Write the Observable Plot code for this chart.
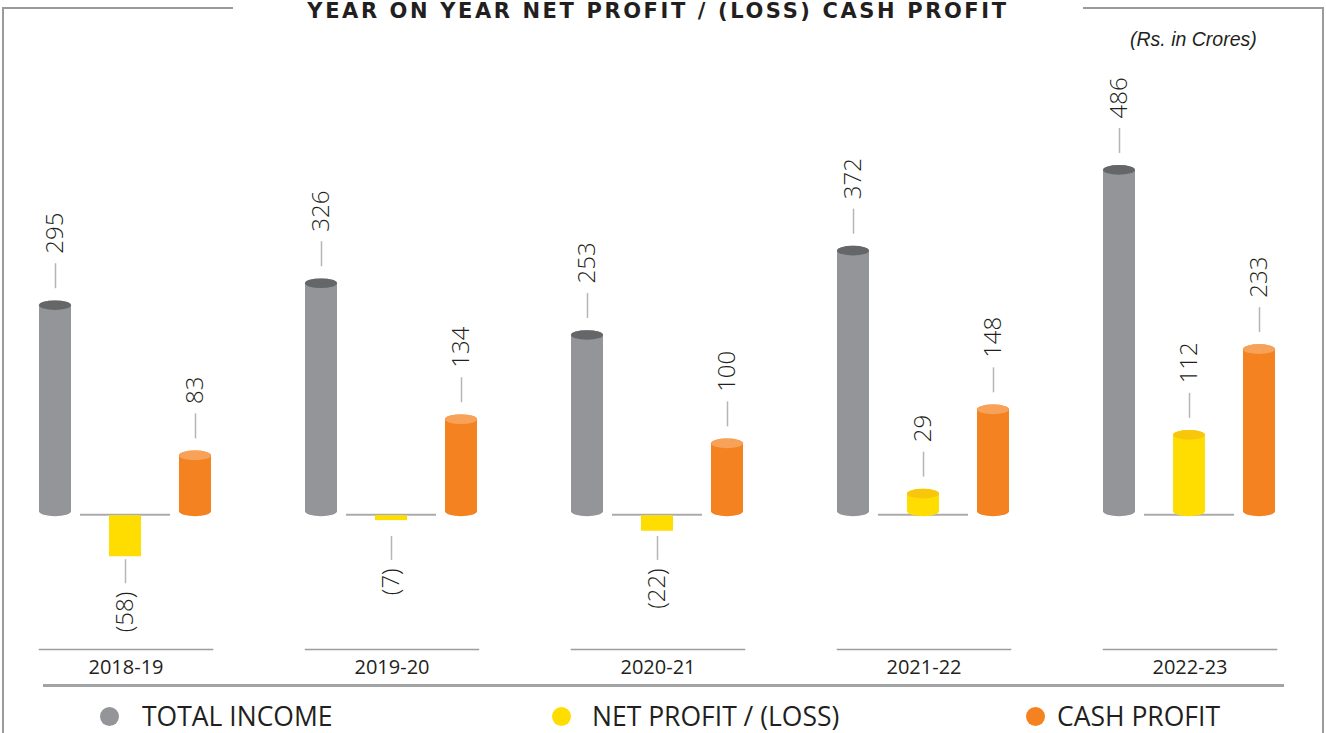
<!DOCTYPE html>
<html>
<head>
<meta charset="utf-8">
<script src="https://cdn.jsdelivr.net/npm/d3@7"></script>
<script src="https://cdn.jsdelivr.net/npm/@observablehq/plot@0.6"></script>
<style>
  html, body { margin: 0; padding: 0; background: #fff; }
  #wrap { position: relative; width: 1326px; height: 733px; overflow: hidden; font-family: "Open Sans", sans-serif; }
  #chart { position: absolute; left: 0; top: 0; }
  .line { position: absolute; background: #9b9b9b; }
  #title { position: absolute; left: 233px; width: 850px; top: 1px; height: 20px; text-align: center; font-family: "DejaVu Sans", sans-serif; font-weight: 700; font-size: 21px; line-height: 20px; letter-spacing: 2.6px; color: #231f20; white-space: nowrap; }
  #unit { position: absolute; left: 1130px; top: 27px; font-family: "Liberation Sans", Arial, sans-serif; font-style: italic; font-size: 19.5px; line-height: 24px; color: #231f20; white-space: nowrap; }
  .leg { position: absolute; top: 701px; height: 30px; display: flex; align-items: center; font-size: 26.5px; line-height: 30px; color: #231f20; white-space: nowrap; }
  .leg span.dot { display: inline-block; width: 19px; height: 19px; border-radius: 50%; }
</style>
</head>
<body>
<div id="wrap">
  <div class="line" style="left:2px; top:7px; width:231px; height:2px;"></div>
  <div class="line" style="left:1083px; top:7px; width:241px; height:2px;"></div>
  <div class="line" style="left:2px; top:7px; width:2px; height:740px;"></div>
  <div class="line" style="left:1322px; top:7px; width:2px; height:740px;"></div>
  <div id="title">YEAR ON YEAR NET PROFIT / (LOSS) CASH PROFIT</div>
  <div id="unit">(Rs. in Crores)</div>
  <div id="chart"></div>
  <div class="line" style="left:43px; top:684px; width:1241px; height:3px; background:#a3a3a3;"></div>
  <div id="legend"></div>
</div>
<script>
// ---- data ----
const years = ["2018-19", "2019-20", "2020-21", "2021-22", "2022-23"];
const seriesNames = ["TOTAL INCOME", "NET PROFIT / (LOSS)", "CASH PROFIT"];
const totalIncome = [295, 326, 253, 372, 486];
const netProfit = [-58, -7, -22, 29, 112];
const cashProfit = [83, 134, 100, 148, 233];

// ---- styles ----
const bodyColors = ["#939598", "#FFDD00", "#F58220"];
const capColors = ["#656668", "#F8C70C", "#F7A258"];

const rows = [];
years.forEach((yr, i) => {
  [totalIncome, netProfit, cashProfit].forEach((arr, s) => {
    rows.push({year: yr, series: seriesNames[s], value: arr[i]});
  });
});
const pos = rows.filter(d => d.value >= 0);
const neg = rows.filter(d => d.value < 0);
const netRows = rows.filter(d => d.series === seriesNames[1]);
const fmt = v => v < 0 ? `(${-v})` : `${v}`;

const bodyScale = d3.scaleOrdinal(seriesNames, bodyColors);
const capScale = d3.scaleOrdinal(seriesNames, capColors);
const RY = 4.8;

const chart = Plot.plot({
  width: 1326,
  height: 733,
  marginLeft: 37,
  marginRight: 47,
  marginTop: 160,
  marginBottom: 148,
  style: {fontFamily: "'Open Sans', sans-serif", color: "#231f20", background: "transparent"},
  fx: {domain: years, paddingInner: 0.3483, paddingOuter: 0, axis: null, label: null},
  x: {domain: seriesNames, paddingInner: 0.537, paddingOuter: 0, axis: null, label: null},
  y: {domain: [-100, 500], axis: null},
  marks: [
    // group underline
    Plot.frame({anchor: "bottom", stroke: "#9d9d9d", strokeWidth: 1.5, dy: 64}),
    // baseline segment around net profit bar
    Plot.tickY(netRows, {fx: "year", x: "series", y: () => 0, insetLeft: -29, insetRight: -29, stroke: "#ababab", strokeWidth: 2}),
    // positive bodies
    Plot.barY(pos, {fx: "year", x: "series", y1: () => 0, y2: "value", fill: d => bodyScale(d.series), insetTop: -RY, insetBottom: -2, rx: 17, ry: RY}),
    // negative bodies
    Plot.barY(neg, {fx: "year", x: "series", y1: () => 0, y2: "value", fill: d => bodyScale(d.series), insetBottom: -1, insetTop: 1}),
    // top caps
    Plot.barY(pos, {fx: "year", x: "series", y1: "value", y2: "value", fill: d => capScale(d.series), insetTop: -RY, insetBottom: -RY, rx: 17, ry: RY}),
    // leader lines
    Plot.ruleX(pos, {fx: "year", x: "series", y1: "value", y2: "value", insetTop: -17, insetBottom: 42, stroke: "#b5b5b5", strokeWidth: 1.5}),
    Plot.ruleX(neg, {fx: "year", x: "series", y1: d => Math.min(d.value, -25), y2: d => Math.min(d.value, -25), insetTop: 4, insetBottom: -28, stroke: "#b5b5b5", strokeWidth: 1.5}),
    // value labels
    Plot.text(pos, {fx: "year", x: "series", y: "value", text: d => fmt(d.value), rotate: -90, textAnchor: "start", dy: -52, fontSize: 24, fontWeight: 300, fill: "#231f20"}),
    Plot.text(neg, {fx: "year", x: "series", y: d => Math.min(d.value, -25), text: d => fmt(d.value), rotate: -90, textAnchor: "end", dy: 36, fontSize: 24, fontWeight: 300, fill: "#231f20"}),
    // year labels
    Plot.text(years, {fx: d => d, text: d => d, frameAnchor: "bottom", dy: 88, fontSize: 20, fill: "#231f20"})
  ]
});
document.getElementById("chart").appendChild(chart);

// legend
const legendX = [100, 552, 1026];
const legendGap = [23, 21, 12];
const legend = document.getElementById("legend");
seriesNames.forEach((name, i) => {
  const el = document.createElement("div");
  el.className = "leg";
  el.style.left = legendX[i] + "px";
  el.innerHTML = `<span class="dot" style="background:${bodyColors[i]};margin-right:${legendGap[i]}px"></span><span>${name}</span>`;
  legend.appendChild(el);
});
</script>
</body>
</html>
